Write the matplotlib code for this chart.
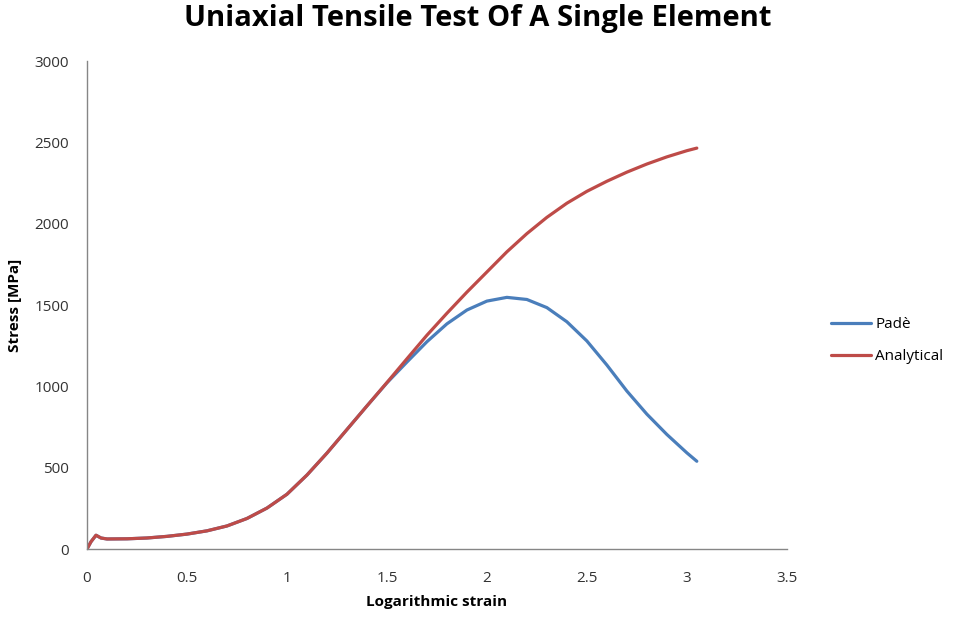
import matplotlib.pyplot as plt
from matplotlib.ticker import FuncFormatter

# values
strain = [0, 0.02, 0.045, 0.07, 0.1, 0.2, 0.3, 0.4, 0.5, 0.6, 0.7, 0.8, 0.9, 1.0,
          1.1, 1.2, 1.3, 1.4, 1.5, 1.6, 1.7, 1.8, 1.9, 2.0, 2.1, 2.2, 2.3, 2.4,
          2.5, 2.6, 2.7, 2.8, 2.9, 3.0, 3.05]
analytical = [0, 45, 85, 68, 62, 63, 68, 78, 92, 112, 142, 188, 252, 337,
              455, 590, 735, 880, 1024, 1170, 1315, 1450, 1580, 1704, 1828, 1940, 2040, 2127,
              2200, 2262, 2318, 2368, 2412, 2450, 2466]
pade = [0, 45, 85, 68, 62, 63, 68, 78, 92, 112, 142, 188, 252, 337,
        455, 590, 735, 880, 1022, 1150, 1275, 1385, 1470, 1525, 1548, 1535, 1485, 1398,
        1280, 1132, 972, 830, 705, 592, 540]

x_ticks = [0, 0.5, 1, 1.5, 2, 2.5, 3, 3.5]
y_ticks = [0, 500, 1000, 1500, 2000, 2500, 3000]

plt.rcParams['font.family'] = ['Open Sans', 'DejaVu Sans']

fig = plt.figure(figsize=(9.56, 6.19), dpi=100)
ax = fig.add_axes([0.091, 0.113, 0.732, 0.788])

ax.plot(strain, pade, color='#4A7EBB', lw=2.3, label='Padè', solid_capstyle='round')
ax.plot(strain, analytical, color='#BE4B48', lw=2.3, label='Analytical', solid_capstyle='round')

ax.set_xlim(0, 3.5)
ax.set_ylim(0, 3000)
ax.set_xticks(x_ticks)
ax.set_yticks(y_ticks)
ax.xaxis.set_major_formatter(FuncFormatter(lambda v, p: f'{v:g}'))
ax.tick_params(length=0, labelsize=11, colors='#333333')
ax.tick_params(axis='x', pad=16)
ax.tick_params(axis='y', pad=13)

for s in ['top', 'right']:
    ax.spines[s].set_visible(False)
for s in ['left', 'bottom']:
    ax.spines[s].set_color('#868686')
    ax.spines[s].set_linewidth(1)

ax.set_xlabel('Logarithmic strain', fontsize=11, fontweight='bold', labelpad=6)
ax.set_ylabel('Stress [MPa]', fontsize=11, fontweight='bold', labelpad=9)

fig.suptitle('Uniaxial Tensile Test Of A Single Element', fontsize=21, fontweight='bold',
             y=0.993, va='top')

fig.legend(loc='center left', bbox_to_anchor=(0.855, 0.45), frameon=False,
           fontsize=11, handlelength=2.6, handletextpad=0.3, labelspacing=1.1)

fig.savefig('out.png', dpi=100)
